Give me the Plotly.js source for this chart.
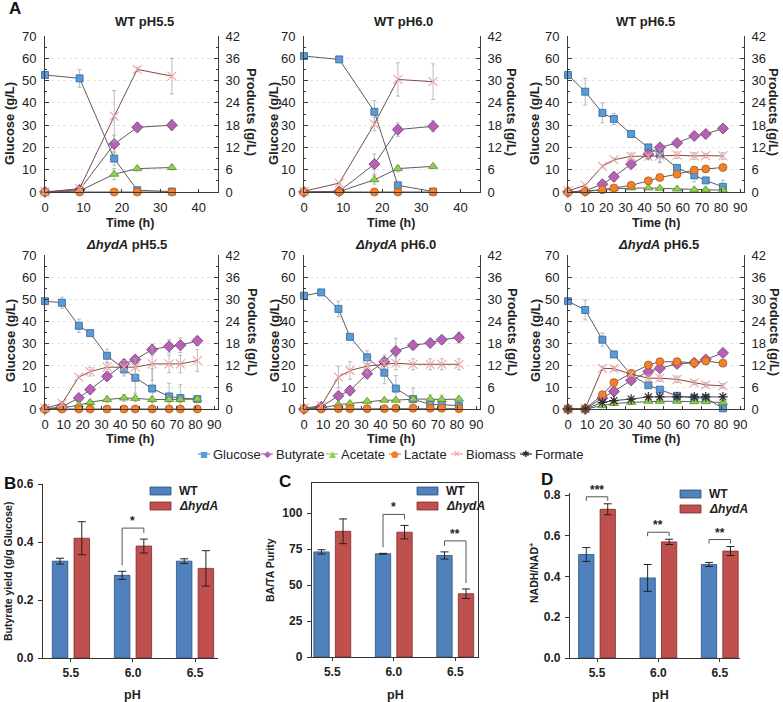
<!DOCTYPE html>
<html>
<head>
<meta charset="utf-8">
<script src="https://cdn.plot.ly/plotly-3.0.1.min.js"></script>
<style>
  html, body { margin: 0; padding: 0; background: #fff; }
  #fig { width: 783px; height: 702px; }
</style>
</head>
<body>
<div id="fig"></div>
<script>
// ---- sampling times (h) ----
const tShort = [0, 9, 18, 24, 33];
const tLong = [0, 9, 18, 24, 33, 42, 48, 57, 66, 72, 81];

// ---- WT pH5.5 (glucose g/L on left axis, products g/L on right axis) ----
const wt55Glu = [52.5, 51, 15, 0.8, 0.2];
const wt55GluSd = [0.5, 4, 3, 0.3, 0.2];
const wt55But = [0, 0.6, 12.9, 17.4, 18];
const wt55ButSd = [0, 0.3, 2.4, 1.2, 1.4];
const wt55Ace = [0, 0.3, 4.8, 6.3, 6.6];
const wt55AceSd = [0, 0.1, 1.5, 0.6, 0.7];
const wt55Lac = [0, 0, 0, 0, 0];
const wt55Bio = [0, 0.9, 20.4, 33, 31.2];
const wt55BioSd = [0, 0.3, 6.9, 0.6, 4.8];

// ---- WT pH6.0 ----
const wt60Glu = [61, 59.5, 36, 3, 0.2];
const wt60GluSd = [0.5, 0.5, 5, 0.5, 0.2];
const wt60But = [0, 0.2, 7.5, 16.8, 17.7];
const wt60ButSd = [0, 0.1, 2.7, 1.8, 1.5];
const wt60Ace = [0, 0.1, 3.3, 6.3, 6.9];
const wt60AceSd = [0, 0.1, 1.2, 0.9, 0.5];
const wt60Lac = [0, 0, 0, 0, 0];
const wt60Bio = [0.2, 2.4, 18.3, 30.3, 29.7];
const wt60BioSd = [0, 0.2, 1.8, 4.5, 4.8];

// ---- WT pH6.5 ----
const wt65Glu = [52.5, 45, 35.5, 32.8, 26, 20, 17, 10.8, 7.5, 5.2, 2.3];
const wt65GluSd = [0.5, 6, 4.5, 2.5, 1, 1, 3.5, 1, 3, 1, 3];
const wt65But = [0, 0.3, 2.1, 4.1, 7.5, 10.2, 12, 13.2, 15.1, 15.6, 17.1];
const wt65ButSd = [0, 0.1, 0.3, 1.2, 0.6, 0.6, 0.6, 0.6, 0.5, 0.5, 0.4];
const wt65Ace = [0, 0.2, 0.6, 0.9, 1.1, 1.1, 1.0, 0.8, 0.6, 0.6, 0.5];
const wt65Lac = [0, 0.1, 0.6, 1.1, 1.8, 3.0, 3.9, 4.8, 5.9, 6.2, 6.6];
const wt65LacSd = [0, 0, 0.2, 0.3, 0.3, 0.3, 0.3, 0.3, 0.4, 0.4, 0.3];
const wt65Bio = [0.3, 1.8, 6.9, 8.7, 9.6, 9.6, 9.7, 9.9, 9.7, 9.8, 9.7];
const wt65BioSd = [0, 0.3, 0.4, 0.4, 0.9, 0.9, 1.8, 0.9, 0.9, 0.6, 0.9];

// ---- ΔhydA pH5.5 ----
const ko55Glu = [49, 48.3, 37.8, 34.5, 24.2, 18, 14.2, 9.3, 5.7, 5, 4.5];
const ko55GluSd = [0.3, 2.5, 3, 0.5, 3, 3, 7, 9, 6, 6, 1];
const ko55But = [0, 0.6, 3.0, 5.3, 8.9, 12.3, 13.5, 16.2, 17.1, 17.4, 18.6];
const ko55ButSd = [0, 0.2, 0.3, 0.4, 1.2, 1.2, 0.9, 1.5, 1.8, 2.0, 1.2];
const ko55Ace = [0, 0.2, 1.1, 1.8, 2.6, 3.0, 2.9, 2.6, 2.6, 2.6, 2.7];
const ko55AceSd = [0, 0.1, 0.3, 0.6, 0.9, 0.9, 0.9, 0.8, 0.8, 0.8, 0.5];
const ko55Lac = [0, 0, 0, 0, 0, 0, 0, 0, 0, 0, 0];
const ko55Bio = [0.2, 1.5, 8.7, 10.2, 11.4, 11.4, 11.4, 12.3, 12.3, 12.3, 13.2];
const ko55BioSd = [0, 0.5, 0.3, 1.2, 1.2, 1.8, 2.4, 4.5, 2.4, 2.4, 3];

// ---- ΔhydA pH6.0 ----
const ko60Glu = [51.5, 53, 45.5, 32.8, 23.5, 16.5, 9.3, 4.5, 2, 2, 1.5];
const ko60GluSd = [0.3, 0.5, 3.5, 0.5, 3, 5, 6, 5, 2, 1, 0.5];
const ko60But = [0, 0.6, 3.6, 5.0, 9.6, 12.9, 15.8, 17.4, 18.0, 18.9, 19.5];
const ko60ButSd = [0, 0.2, 0.4, 1.2, 1.2, 1.8, 3.5, 1.2, 0.6, 0.5, 1.5];
const ko60Ace = [0, 0.2, 1.2, 1.5, 2.1, 2.4, 2.4, 2.7, 2.7, 2.6, 2.7];
const ko60AceSd = [0, 0, 0.3, 0.3, 0.3, 0.3, 0.3, 0.6, 1.2, 1.2, 0.6];
const ko60Lac = [0, 0, 0.1, 0.1, 0.1, 0.1, 0.2, 0.2, 0.2, 0.2, 0.1];
const ko60Bio = [0.2, 0.9, 8.7, 10.5, 11.7, 12.3, 12.5, 12.2, 12.2, 12.2, 12.2];
const ko60BioSd = [0, 0.3, 3, 2.4, 1.8, 1.2, 1.8, 1.5, 1.5, 1.5, 1.5];

// ---- ΔhydA pH6.5 ----
const ko65Glu = [49, 45, 31.5, 24.8, 15.5, 10.8, 8.8, 6, 5, 5, 0.3];
const ko65GluSd = [0.3, 4.5, 3, 0.5, 0.5, 0.5, 0.5, 1.5, 1, 1, 0.3];
const ko65But = [0, 0, 3, 4.8, 7.8, 10.2, 11.1, 12.3, 12.6, 13.5, 15.3];
const ko65ButSd = [0, 0, 0.6, 0.5, 0.8, 0.8, 0.8, 0.6, 0.6, 0.5, 0.5];
const ko65Ace = [0, 0, 0.9, 1.5, 1.8, 2.1, 2.1, 2.1, 2.0, 2.0, 1.8];
const ko65Lac = [0, 0, 3.9, 7.2, 9.7, 12, 12.9, 12.9, 12.6, 13.1, 12.5];
const ko65LacSd = [0, 0, 0.3, 0.5, 0.6, 0.6, 0.5, 0.9, 0.6, 0.9, 0.5];
const ko65Bio = [0, 0.1, 11.1, 11.0, 9.5, 8.4, 8.4, 8.1, 7.2, 6.6, 6.3];
const ko65BioSd = [0, 0, 0.6, 0.6, 0.6, 0.9, 0.9, 0.9, 0.6, 0.6, 0.6];
const ko65For = [0, 0, 1.8, 2.3, 2.7, 3.3, 3.3, 3.3, 3.3, 3.3, 3.3];
const ko65ForSd = [0, 0, 0.3, 0.3, 0.3, 0.3, 0.3, 0.5, 0.5, 0.5, 0.5];

// ---- bar panels ----
const phLabels = ["5.5", "6.0", "6.5"];
const yieldWT = [0.334, 0.285, 0.334];
const yieldWTSd = [0.01, 0.014, 0.008];
const yieldKO = [0.413, 0.386, 0.309];
const yieldKOSd = [0.057, 0.024, 0.061];
const purityWT = [73.1, 71.8, 70.6];
const purityWTSd = [1.5, 0.3, 2.5];
const purityKO = [87.4, 86.8, 44.0];
const purityKOSd = [8.6, 4.7, 3.3];
const nadWT = [0.508, 0.393, 0.459];
const nadWTSd = [0.034, 0.066, 0.01];
const nadKO = [0.730, 0.570, 0.525];
const nadKOSd = [0.027, 0.013, 0.022];
const sigYield = ["", "*", ""];
const sigPurity = ["", "*", "**"];
const sigNad = ["***", "**", "**"];

// ---------------------------------------------------------------
const W = 783, H = 702;
const FONT = "Liberation Sans, Arial, Helvetica, sans-serif";
const xd = (a, b) => [a / W, b / W];
const yd = (top, bot) => [1 - bot / H, 1 - top / H];
const px = x => x / W;
const py = y => 1 - y / H;

const styles = {
  glu: { name: "Glucose", symbol: "square", color: "#5b9bd5", edge: "#2f65a0", size: 7, lw: 0.8, line: "#5c5c5c", right: false, glyph: "■" },
  but: { name: "Butyrate", symbol: "diamond", color: "#b462b4", edge: "#7a3a7a", size: 8.5, lw: 0.8, line: "#5c5c5c", right: true, glyph: "◆" },
  ace: { name: "Acetate", symbol: "triangle-up", color: "#92d050", edge: "#5b8a2b", size: 8, lw: 0.8, line: "#5c5c5c", right: true, glyph: "▲" },
  lac: { name: "Lactate", symbol: "circle", color: "#f07f2f", edge: "#b55a17", size: 8, lw: 0.8, line: "#5c5c5c", right: true, glyph: "●" },
  bio: { name: "Biomass", symbol: "x-thin-open", color: "#f2a2a2", edge: "#f2a2a2", size: 9, lw: 1.1, line: "#7d4a4a", right: true, glyph: "✕" },
  for: { name: "Formate", symbol: "asterisk-open", color: "#2b2b2b", edge: "#2b2b2b", size: 8, lw: 1.2, line: "#4a4a4a", right: true, glyph: "✱" }
};
const seriesKeys = ["glu", "but", "ace", "lac", "bio", "for"];

const panels = [
  { title: "<b>WT pH5.5</b>", t: tShort, xmax: 45, tx: 144,
    glu: [wt55Glu, wt55GluSd], but: [wt55But, wt55ButSd], ace: [wt55Ace, wt55AceSd], lac: [wt55Lac], bio: [wt55Bio, wt55BioSd] },
  { title: "<b>WT pH6.0</b>", t: tShort, xmax: 45, tx: 403,
    glu: [wt60Glu, wt60GluSd], but: [wt60But, wt60ButSd], ace: [wt60Ace, wt60AceSd], lac: [wt60Lac], bio: [wt60Bio, wt60BioSd] },
  { title: "<b>WT pH6.5</b>", t: tLong, xmax: 92, tx: 645,
    glu: [wt65Glu, wt65GluSd], but: [wt65But, wt65ButSd], ace: [wt65Ace], lac: [wt65Lac, wt65LacSd], bio: [wt65Bio, wt65BioSd] },
  { title: "<b><i>ΔhydA</i> pH5.5</b>", t: tLong, xmax: 92, tx: 127,
    glu: [ko55Glu, ko55GluSd], but: [ko55But, ko55ButSd], ace: [ko55Ace, ko55AceSd], lac: [ko55Lac], bio: [ko55Bio, ko55BioSd] },
  { title: "<b><i>ΔhydA</i> pH6.0</b>", t: tLong, xmax: 92, tx: 395,
    glu: [ko60Glu, ko60GluSd], but: [ko60But, ko60ButSd], ace: [ko60Ace, ko60AceSd], lac: [ko60Lac], bio: [ko60Bio, ko60BioSd] },
  { title: "<b><i>ΔhydA</i> pH6.5</b>", t: tLong, xmax: 92, tx: 658,
    glu: [ko65Glu, ko65GluSd], but: [ko65But, ko65ButSd], ace: [ko65Ace], lac: [ko65Lac, ko65LacSd], bio: [ko65Bio, ko65BioSd], for: [ko65For, ko65ForSd] }
];

const cols = [[45, 218], [304, 480], [568, 744]];
const rows = [[36, 192], [255, 409]];
const leftTitleX = [10, 274, 535];
const rightTitleX = [252, 512, 774];
const timeX = [130, 391, 656];
const rowTitleY = [21, 244];
const rowTimeY = [223, 439];
const rowGluY = [124, 341];
const rowProdY = [112, 332];

const data = [];
const annotations = [];
const shapes = [];
const layout = {
  width: W, height: H,
  margin: { l: 0, r: 0, t: 0, b: 0 },
  paper_bgcolor: "#fff", plot_bgcolor: "rgba(0,0,0,0)",
  showlegend: false,
  font: { family: FONT, size: 13, color: "#222" },
  barmode: "group", bargap: 0.3, bargroupgap: 0.286,
  annotations: annotations, shapes: shapes
};

function note(text, x, y, opts) {
  annotations.push(Object.assign({
    text: text, x: px(x), y: py(y), xref: "paper", yref: "paper",
    showarrow: false, xanchor: "center", yanchor: "middle",
    font: { family: FONT, size: 13, color: "#222" }
  }, opts || {}));
}

const axisLine = { showline: true, linecolor: "#3a3a3a", linewidth: 1, zeroline: false, tickcolor: "#3a3a3a" };

panels.forEach((p, i) => {
  const n = i + 1;
  const col = i % 3, row = Math.floor(i / 3);
  const xa = n === 1 ? "x" : "x" + n;
  const ya = n === 1 ? "y" : "y" + n;
  const yr = "y" + (n + 6);

  seriesKeys.forEach(k => {
    if (!p[k]) return;
    const st = styles[k];
    const vals = p[k][0], sd = p[k][1];
    data.push({
      type: "scatter", mode: "lines+markers", x: p.t, y: vals,
      xaxis: xa, yaxis: st.right ? yr : ya,
      cliponaxis: false, hoverinfo: "skip", showlegend: false,
      line: { color: st.line, width: 1 },
      marker: { symbol: st.symbol, size: st.size, color: st.color, line: { color: st.edge, width: st.lw } },
      error_y: sd ? { type: "data", array: sd, visible: true, color: "#a9a9a9", thickness: 0.8, width: 2 } : { visible: false }
    });
  });

  layout["xaxis" + (n === 1 ? "" : n)] = Object.assign({
    domain: xd(cols[col][0], cols[col][1]), anchor: ya,
    range: [0, p.xmax], dtick: 10, ticks: "inside", ticklen: 3,
    showgrid: false, tickfont: { family: FONT, size: 13, color: "#222" }, ticklabelstandoff: 3
  }, axisLine);
  layout["yaxis" + (n === 1 ? "" : n)] = Object.assign({
    domain: yd(rows[row][0], rows[row][1]), anchor: xa,
    range: [0, 70], dtick: 10, ticks: "inside", ticklen: 4,
    minor: { ticks: "inside", ticklen: 2, dtick: 5, tickcolor: "#3a3a3a" },
    showgrid: true, gridcolor: "#e4e4e4", griddash: "dot", gridwidth: 1,
    tickfont: { family: FONT, size: 13, color: "#222" }, ticklabelstandoff: 5
  }, axisLine);
  layout["yaxis" + (n + 6)] = Object.assign({
    overlaying: ya, side: "right", anchor: xa,
    range: [0, 42], dtick: 6, ticks: "inside", ticklen: 4,
    minor: { ticks: "inside", ticklen: 2, dtick: 3, tickcolor: "#3a3a3a" },
    showgrid: false, tickfont: { family: FONT, size: 13, color: "#222" }, ticklabelstandoff: 4
  }, axisLine);

  note(p.title, p.tx, rowTitleY[row]);
  note("<b>Time (h)</b>", timeX[col], rowTimeY[row], { font: { family: FONT, size: 12.5, color: "#222" } });
  note("<b>Glucose (g/L)</b>", leftTitleX[col], rowGluY[row], { textangle: -90 });
  note("<b>Products (g/L)</b>", rightTitleX[col], rowProdY[row], { textangle: 90 });
});

// ---- shared legend for the time courses ----
const legendX = [198, 261, 326, 389, 451, 520];
const legendY = 454;
seriesKeys.forEach((k, i) => {
  const st = styles[k];
  const x0 = legendX[i];
  shapes.push({ type: "line", xref: "paper", yref: "paper", x0: px(x0), x1: px(x0 + 12), y0: py(legendY), y1: py(legendY),
    line: { color: st.color, width: 1.2 } });
  note(st.glyph, x0 + 6, legendY, { font: { family: "DejaVu Sans", size: k === "glu" ? 8 : 9, color: st.color } });
  note(st.name, x0 + 13, legendY, { xanchor: "left", font: { family: FONT, size: 13, color: "#222" } });
});

// ---- bar panels ----
const blue = "#4f81bd", red = "#c0504d";
const barPanels = [
  { xa: "x7", ya: "y13", xdom: [43, 218], ydom: [484, 658], xr: [-0.45, 2.37], yr: [0, 0.6], dtick: 0.2, fmt: ".1f", box: false,
    wt: yieldWT, wtSd: yieldWTSd, ko: yieldKO, koSd: yieldKOSd, sig: sigYield, longLegs: true, pad: 11,
    ytitle: "<b>Butyrate yield (g/g Glucose)</b>", ytx: 8, yty: 572, phx: 132, letter: "B", lx: 10, ly: 483, legX: 150, legY: 491 },
  { xa: "x8", ya: "y14", xdom: [312, 478], ydom: [483, 657], xr: [-0.33, 2.37], yr: [0, 121], dtick: 25, fmt: "", box: true,
    wt: purityWT, wtSd: purityWTSd, ko: purityKO, koSd: purityKOSd, sig: sigPurity, longLegs: true, pad: 11,
    ytitle: "<b>BA/TA Purity</b>", ytx: 270, yty: 570, phx: 395, letter: "C", lx: 285, ly: 481, legX: 417, legY: 491 },
  { xa: "x9", ya: "y15", xdom: [570, 740], ydom: [493, 658], xr: [-0.44, 2.33], yr: [0, 0.81], dtick: 0.2, fmt: ".1f", box: false,
    wt: nadWT, wtSd: nadWTSd, ko: nadKO, koSd: nadKOSd, sig: sigNad, longLegs: false, pad: 7,
    ytitle: "<b>NADH/NAD<sup>+</sup></b>", ytx: 533, yty: 573, phx: 660, letter: "D", lx: 547, ly: 479, legX: 680, legY: 494 }
];

barPanels.forEach(b => {
  const boldTick = { family: FONT, size: 12, color: "#222", weight: "bold" };
  [[b.wt, b.wtSd, blue, "#2c4f7c"], [b.ko, b.koSd, red, "#7a2c2a"]].forEach(([v, sd, c, e]) => {
    data.push({
      type: "bar", x: phLabels, y: v, xaxis: b.xa, yaxis: b.ya, hoverinfo: "skip", showlegend: false,
      marker: { color: c, line: { color: e, width: 0.8 } },
      error_y: { type: "data", array: sd, visible: true, color: "#222", thickness: 1, width: 4 }
    });
  });
  layout["xaxis" + b.xa.slice(1)] = {
    domain: xd(b.xdom[0], b.xdom[1]), anchor: b.ya, type: "category", range: b.xr,
    showline: true, linecolor: "#333", linewidth: 1.2, mirror: b.box, ticks: "outside", ticklen: 3, tickcolor: "#333",
    tickfont: boldTick, ticklabelstandoff: 0, showgrid: false, zeroline: false
  };
  layout["yaxis" + b.ya.slice(1)] = {
    domain: yd(b.ydom[0], b.ydom[1]), anchor: b.xa, range: b.yr, dtick: b.dtick, tickformat: b.fmt,
    showline: true, linecolor: "#333", linewidth: 1.2, mirror: b.box, ticks: "outside", ticklen: 4, tickcolor: "#333",
    tickfont: boldTick, ticklabelstandoff: 2, showgrid: false, zeroline: false
  };

  // significance brackets, placed from the bar tops
  const unit = (b.yr[1] - b.yr[0]) / (b.ydom[1] - b.ydom[0]);
  b.sig.forEach((s, i) => {
    if (!s) return;
    const topW = b.wt[i] + b.wtSd[i], topK = b.ko[i] + b.koSd[i];
    const top = Math.max(topW, topK) + b.pad * unit;
    const legW = b.longLegs ? topW + 6 * unit : top - 4 * unit;
    const legK = b.longLegs ? topK + 6 * unit : top - 4 * unit;
    const xl = i - 0.175, xr = i + 0.175;
    const ln = { color: "#555", width: 1 };
    shapes.push({ type: "line", xref: b.xa, yref: b.ya, x0: xl, x1: xr, y0: top, y1: top, line: ln });
    shapes.push({ type: "line", xref: b.xa, yref: b.ya, x0: xl, x1: xl, y0: legW, y1: top, line: ln });
    shapes.push({ type: "line", xref: b.xa, yref: b.ya, x0: xr, x1: xr, y0: legK, y1: top, line: ln });
    annotations.push({ text: "<b>" + s + "</b>", xref: b.xa, yref: b.ya, x: i, y: top, yanchor: "bottom",
      showarrow: false, font: { family: FONT, size: 12, color: "#222" }, yshift: -2 });
  });

  note("<b>" + b.letter + "</b>", b.lx, b.ly, { font: { family: FONT, size: 17, color: "#111" } });
  note(b.ytitle, b.ytx, b.yty, { textangle: -90, font: { family: FONT, size: 10.5, color: "#222" } });
  note("<b>pH</b>", b.phx, 695, { font: { family: FONT, size: 12.5, color: "#222" } });

  // legend swatches
  [["<b>WT</b>", blue, "#2c4f7c", 0], ["<b><i>ΔhydA</i></b>", red, "#7a2c2a", 15]].forEach(([txt, c, e, dy]) => {
    const yc = b.legY + dy;
    shapes.push({ type: "rect", xref: "paper", yref: "paper", x0: px(b.legX), x1: px(b.legX + 21),
      y0: py(yc + 4), y1: py(yc - 4), fillcolor: c, line: { color: e, width: 0.8 } });
    note(txt, b.legX + 27, yc, { xanchor: "left", font: { family: FONT, size: 12, color: "#222" } });
  });
});

note("<b>A</b>", 15, 8, { font: { family: FONT, size: 17, color: "#111" } });

Plotly.newPlot("fig", data, layout, { displayModeBar: false, staticPlot: true });
</script>
</body>
</html>
